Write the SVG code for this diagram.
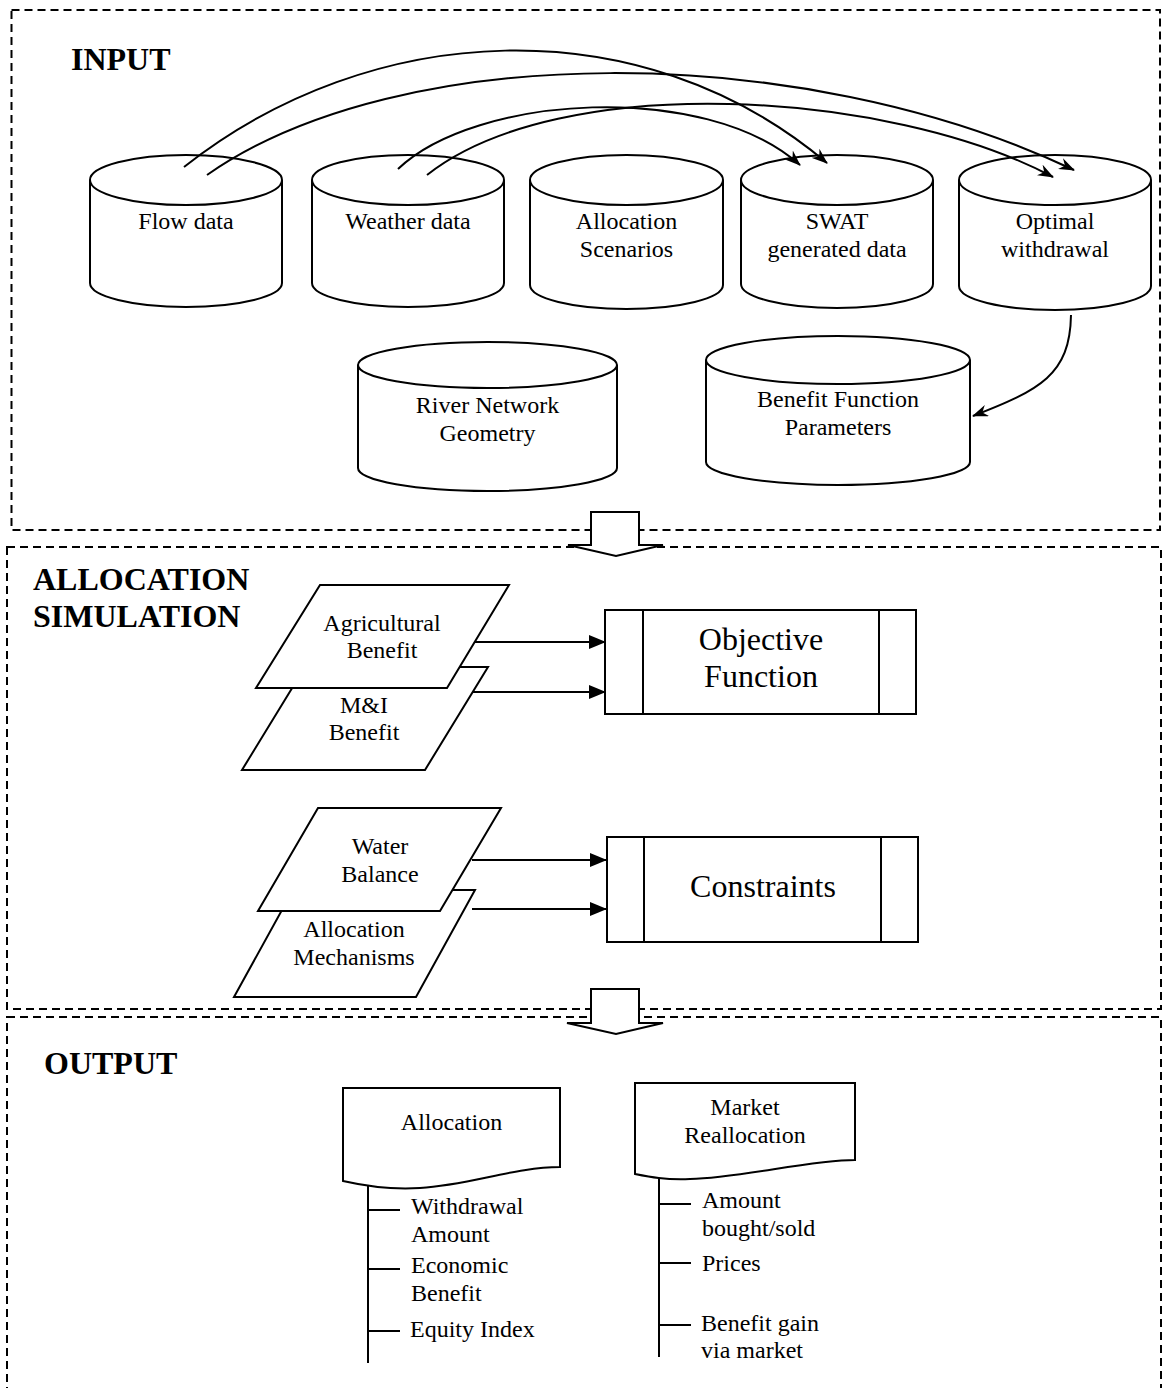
<svg xmlns="http://www.w3.org/2000/svg" width="1162" height="1388" viewBox="0 0 1162 1388">
<style>
.sec{fill:none;stroke:#000;stroke-width:2;stroke-dasharray:8 5}
.shp{fill:#fff;stroke:#000;stroke-width:2}
.ln{fill:none;stroke:#000;stroke-width:2}
.t{font-family:"Liberation Serif","Times New Roman",serif;font-size:24px;fill:#000;text-anchor:middle}
.tl{font-family:"Liberation Serif","Times New Roman",serif;font-size:24px;fill:#000}
.big{font-family:"Liberation Serif","Times New Roman",serif;font-size:32px;fill:#000;text-anchor:middle}
.h{font-family:"Liberation Serif","Times New Roman",serif;font-size:32px;font-weight:bold;fill:#000}
</style>
<defs>
<marker id="barb" viewBox="0 0 16 12" refX="15" refY="6" markerWidth="16" markerHeight="12" orient="auto" markerUnits="userSpaceOnUse"><path d="M0,0 L16,6 L0,12 L5,6 z" fill="#000"/></marker>
<marker id="tri" viewBox="0 0 17 14" refX="17" refY="7" markerWidth="17" markerHeight="14" orient="auto" markerUnits="userSpaceOnUse"><path d="M0,0 L17,7 L0,14 z" fill="#000"/></marker>
</defs>
<rect width="1162" height="1388" fill="#fff"/>

<g id="sections">
<rect class="sec" x="11.5" y="10" width="1148.5" height="520"/>
<rect class="sec" x="7" y="547" width="1154" height="462"/>
<rect class="sec" x="7" y="1017" width="1154" height="400"/>
<text class="h" x="71" y="70">INPUT</text>
<text class="h" x="33" y="590">ALLOCATION</text>
<text class="h" x="33" y="627">SIMULATION</text>
<text class="h" x="44" y="1074">OUTPUT</text>
</g>

<g id="flow-data">
<path class="shp" d="M90,180 V283 A96,24 0 0 0 282,283 V180"/>
<ellipse class="shp" cx="186" cy="180" rx="96" ry="25"/>
<text class="t" x="186" y="229">Flow data</text>
</g>
<g id="weather-data">
<path class="shp" d="M312,180 V283 A96,24 0 0 0 504,283 V180"/>
<ellipse class="shp" cx="408" cy="180" rx="96" ry="25"/>
<text class="t" x="408" y="229">Weather data</text>
</g>
<g id="allocation-scenarios">
<path class="shp" d="M530,180 V285 A96.5,24 0 0 0 723,285 V180"/>
<ellipse class="shp" cx="626.5" cy="180" rx="96.5" ry="25"/>
<text class="t" x="626.5" y="229">Allocation</text>
<text class="t" x="626.5" y="257">Scenarios</text>
</g>
<g id="swat-data">
<path class="shp" d="M741,180 V284 A96,24 0 0 0 933,284 V180"/>
<ellipse class="shp" cx="837" cy="180" rx="96" ry="25"/>
<text class="t" x="837" y="229">SWAT</text>
<text class="t" x="837" y="257">generated data</text>
</g>
<g id="optimal-withdrawal">
<path class="shp" d="M959,180 V286 A96,24 0 0 0 1151,286 V180"/>
<ellipse class="shp" cx="1055" cy="180" rx="96" ry="25"/>
<text class="t" x="1055" y="229">Optimal</text>
<text class="t" x="1055" y="257">withdrawal</text>
</g>
<g id="river-network">
<path class="shp" d="M358,365 V468 A129.5,23 0 0 0 617,468 V365"/>
<ellipse class="shp" cx="487.5" cy="365" rx="129.5" ry="23"/>
<text class="t" x="487.5" y="413">River Network</text>
<text class="t" x="487.5" y="441">Geometry</text>
</g>
<g id="benefit-params">
<path class="shp" d="M706,360 V462 A132,23 0 0 0 970,462 V360"/>
<ellipse class="shp" cx="838" cy="360" rx="132" ry="24"/>
<text class="t" x="838" y="407">Benefit Function</text>
<text class="t" x="838" y="435">Parameters</text>
</g>

<g id="mi-benefit">
<polygon class="shp" points="305,667 488,667 425,770 242,770"/>
<text class="t" x="364" y="713">M&amp;I</text>
<text class="t" x="364" y="740">Benefit</text>
</g>
<g id="agri-benefit">
<polygon class="shp" points="320,585 509,585 447,688 256,688"/>
<text class="t" x="382" y="631">Agricultural</text>
<text class="t" x="382" y="658">Benefit</text>
</g>
<g id="objective-function">
<rect class="shp" x="605" y="610" width="311" height="104"/>
<line class="ln" x1="643" y1="610" x2="643" y2="714"/>
<line class="ln" x1="879" y1="610" x2="879" y2="714"/>
<text class="big" x="761" y="650">Objective</text>
<text class="big" x="761" y="687">Function</text>
</g>
<g id="allocation-mechanisms">
<polygon class="shp" points="293,890 475,890 416,997 234,997"/>
<text class="t" x="354" y="937">Allocation</text>
<text class="t" x="354" y="965">Mechanisms</text>
</g>
<g id="water-balance">
<polygon class="shp" points="318,808 501,808 440,911 258,911"/>
<text class="t" x="380" y="854">Water</text>
<text class="t" x="380" y="882">Balance</text>
</g>
<g id="constraints">
<rect class="shp" x="607" y="837" width="311" height="105"/>
<line class="ln" x1="644" y1="837" x2="644" y2="942"/>
<line class="ln" x1="881" y1="837" x2="881" y2="942"/>
<text class="big" x="763" y="897">Constraints</text>
</g>

<g id="allocation-output">
<path class="shp" d="M343,1088 H560 V1167 C515,1167 470,1185 420,1188 C390,1190 365,1186 343,1181 Z"/>
<text class="t" x="451.5" y="1130">Allocation</text>
<path class="ln" d="M368,1185 V1363 M368,1210 H400 M368,1269 H400 M368,1331 H400"/>
<text class="tl" x="411" y="1214">Withdrawal</text>
<text class="tl" x="411" y="1242">Amount</text>
<text class="tl" x="411" y="1273">Economic</text>
<text class="tl" x="411" y="1301">Benefit</text>
<text class="tl" x="410" y="1337">Equity Index</text>
</g>
<g id="market-output">
<path class="shp" d="M635,1083 H855 V1160 C810,1160 740,1178 690,1179 C665,1180 650,1177 635,1174 Z"/>
<text class="t" x="745" y="1115">Market</text>
<text class="t" x="745" y="1143">Reallocation</text>
<path class="ln" d="M659,1178 V1357 M659,1204 H691 M659,1263 H691 M659,1325 H691"/>
<text class="tl" x="702" y="1208">Amount</text>
<text class="tl" x="702" y="1236">bought/sold</text>
<text class="tl" x="702" y="1271">Prices</text>
<text class="tl" x="701" y="1331">Benefit gain</text>
<text class="tl" x="701" y="1358">via market</text>
</g>

<g id="connectors">
<path class="ln" marker-end="url(#barb)" d="M184,167 C370,20 640,5 827,163"/>
<path class="ln" marker-end="url(#barb)" d="M207,175 C400,40 800,40 1074,170"/>
<path class="ln" marker-end="url(#barb)" d="M398,169 C475,95 705,80 800,165"/>
<path class="ln" marker-end="url(#barb)" d="M427,175 C560,70 890,90 1053,177"/>
<path class="ln" marker-end="url(#barb)" d="M1071,315 C1070,375 1040,390 973,416"/>
<path class="ln" marker-end="url(#tri)" d="M475,642 H606"/>
<path class="ln" marker-end="url(#tri)" d="M472,692 H606"/>
<path class="ln" marker-end="url(#tri)" d="M472,860 H607"/>
<path class="ln" marker-end="url(#tri)" d="M472,909 H607"/>
<polygon class="shp" points="591,512 639,512 639,545 663,545 616,556 568,545 591,545"/>
<polygon class="shp" points="591,989 639,989 639,1023 663,1023 616,1034 567,1023 591,1023"/>
</g>
</svg>
